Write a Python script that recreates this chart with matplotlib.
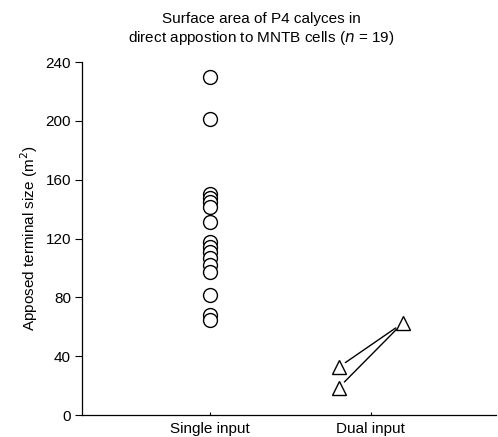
import matplotlib
matplotlib.use("Agg")
import matplotlib.pyplot as plt

plt.rcParams['font.family'] = ['Liberation Sans', 'DejaVu Sans']

# single input calyces (um^2)
single_vals = [230, 201, 150.5, 147.5, 145, 141.5, 131.5,
               118, 114.5, 111, 106.5, 102, 97.5, 81.5, 68, 64.5]
# dual input: two small terminals paired with one larger terminal
dual_small = [32.5, 18.5]
dual_large = [62.5]

categories = ["Single input", "Dual input"]
title = "Surface area of P4 calyces in\ndirect appostion to MNTB cells ($\\it{n}$ = 19)"

fig = plt.figure(figsize=(4.98, 4.37), dpi=100)
ax = fig.add_axes([0.165, 0.05, 0.83, 0.808])

ax.plot([1] * len(single_vals), single_vals, "o", ms=10, mfc="white",
        mec="black", mew=1.0, zorder=3)

off = 0.2
for v in dual_small:
    ax.annotate("", xy=(2 + off, dual_large[0]), xytext=(2 - off, v),
                arrowprops=dict(arrowstyle="-", lw=1.0, color="black",
                                shrinkA=6, shrinkB=6))
ax.plot([2 - off] * len(dual_small), dual_small, "^", ms=10.5, mfc="white",
        mec="black", mew=1.0, zorder=3)
ax.plot([2 + off] * len(dual_large), dual_large, "^", ms=10.5, mfc="white",
        mec="black", mew=1.0, zorder=3)

ax.set_xlim(0.2, 2.78)
ax.set_ylim(0, 240)
ax.set_yticks(range(0, 241, 40))
ax.set_xticks([1, 2])
ax.set_xticklabels(categories, fontsize=11)
ax.tick_params(axis="y", labelsize=11, length=5, width=0.8, pad=3)
ax.tick_params(axis="x", length=2, width=0.8, direction="in", pad=5)
for s in ["top", "right"]:
    ax.spines[s].set_visible(False)
for s in ["left", "bottom"]:
    ax.spines[s].set_linewidth(0.9)

ax.set_ylabel("Apposed terminal size (m$^2$)", fontsize=11, labelpad=4)
fig.text(0.524, 0.932, title, ha="center", va="center", fontsize=11,
         linespacing=1.2)

fig.savefig("out.png", dpi=100)
